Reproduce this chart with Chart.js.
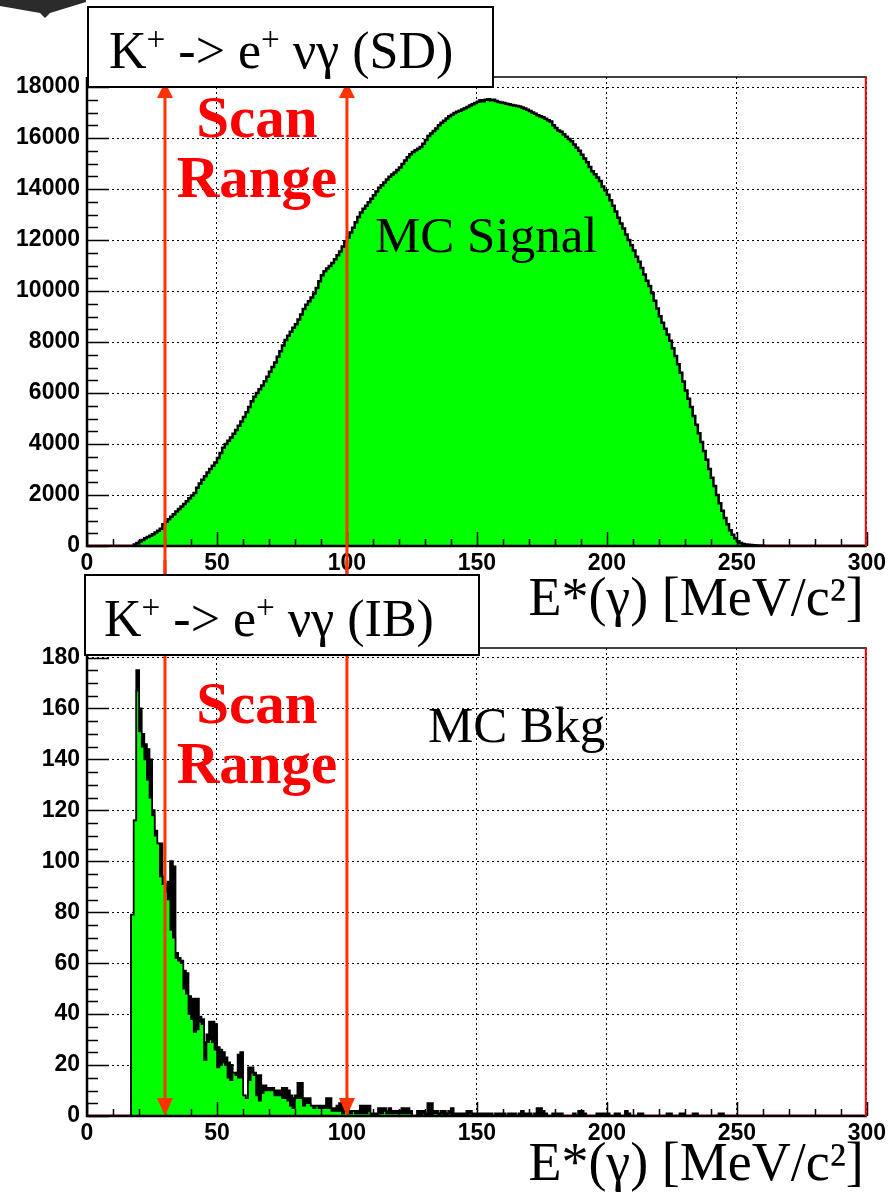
<!DOCTYPE html>
<html>
<head>
<meta charset="utf-8">
<script src="https://cdn.jsdelivr.net/npm/chart.js@4.4.0/dist/chart.umd.min.js"></script>
<style>
  html, body { margin: 0; padding: 0; background: #fff; }
  body { width: 890px; height: 1195px; position: relative; overflow: hidden; }
  #corner { position: absolute; left: 0; top: 0; width: 86px; height: 18px; background: #2b2b2b;
            clip-path: polygon(0 0, 86px 0, 86px 2px, 50px 13px, 45px 18px, 40px 13px, 0 6px); }
  canvas { position: absolute; left: 0; }
  #sdChart { top: 0; }
  #ibChart { top: 560px; }
</style>
</head>
<body>
<div id="corner"></div>
<canvas id="sdChart" width="890" height="640"></canvas>
<canvas id="ibChart" width="890" height="635"></canvas>
<script>
// E*(gamma) axis, MeV, 1 MeV bins
const energyTicks = [0, 50, 100, 150, 200, 250, 300];
const binWidth = 1;
const scanRange = [30, 100];
const axisTitle = 'E*(\u03b3) [MeV/c\u00b2]';

// K+ -> e+ nu gamma (SD), MC signal, first bin at 18 MeV
const sdStart = 18;
const sdCounts = [
  20, 60, 120, 180, 240, 300, 350, 400, 460, 530,
  600, 680, 850, 950, 1050, 1150, 1250, 1350, 1450, 1550,
  1650, 1760, 1870, 1980, 2080, 2280, 2450, 2600, 2740, 2880,
  3020, 3150, 3280, 3450, 3650, 3850, 4000, 4130, 4260, 4400,
  4550, 4720, 4880, 5060, 5250, 5450, 5680, 5850, 6000, 6150,
  6300, 6460, 6640, 6830, 7020, 7200, 7420, 7640, 7860, 8080,
  8250, 8400, 8560, 8700, 8880, 9080, 9300, 9460, 9600, 9750,
  9900, 10120, 10380, 10620, 10780, 10880, 10980, 11100, 11250, 11400,
  11550, 11750, 11950, 12100, 12300, 12480, 12700, 12900, 13080, 13230,
  13350, 13480, 13620, 13760, 13900, 14050, 14150, 14260, 14380, 14480,
  14570, 14650, 14750, 14850, 14980, 15120, 15250, 15370, 15450, 15520,
  15580, 15650, 15780, 15920, 16080, 16180, 16280, 16380, 16500, 16600,
  16680, 16770, 16860, 16920, 16980, 17030, 17070, 17120, 17170, 17220,
  17280, 17330, 17380, 17430, 17480, 17440, 17500, 17520, 17480, 17500,
  17450, 17420, 17400, 17380, 17350, 17330, 17300, 17280, 17260, 17240,
  17200, 17160, 17110, 17060, 17000, 16950, 16900, 16860, 16820, 16760,
  16700, 16650, 16500, 16400, 16300, 16250, 16150, 16050, 15960, 15880,
  15750, 15620, 15500, 15350, 15200, 15050, 14870, 14700, 14580, 14450,
  14320, 14100, 13950, 13780, 13560, 13350, 13120, 12880, 12650, 12450,
  12220, 12000, 11800, 11590, 11350, 11150, 10900, 10650, 10400, 10200,
  9920, 9620, 9320, 9010, 8760, 8520, 8300, 8050, 7760, 7450,
  7130, 6800, 6450, 6100, 5780, 5450, 5100, 4760, 4420, 4080,
  3730, 3380, 3020, 2680, 2350, 2000, 1680, 1380, 1100, 850,
  620, 440, 300, 190, 120, 80, 60, 45, 35, 25,
  18, 12, 8
];
const sdTicks = [0, 2000, 4000, 6000, 8000, 10000, 12000, 14000, 16000, 18000];

// K+ -> e+ nu gamma (IB), MC background, first bin at 17 MeV
const ibStart = 17;
const ibFilled = [
  20, 79, 116, 167, 151, 145, 140, 132, 125, 118,
  110, 107, 94, 91, 88, 85, 73, 70, 62, 61,
  60, 50, 48, 40, 38, 33, 34, 37, 36, 22,
  29, 30, 29, 26, 19, 20, 21, 20, 15, 14,
  17, 16, 15, 15, 8, 7, 14, 17, 16, 8,
  6, 9, 10, 10, 10, 10, 8, 8, 8, 7,
  7, 6, 4, 3, 7, 7, 7, 4, 5, 5,
  4, 3, 4, 3, 3, 3, 3, 3, 2, 2,
  2, 2, 1, 2, 2, 1, 2, 1, 1, 1,
  1, 1, 2, 0, 0, 0, 1, 1, 2, 1,
  1, 1, 1, 1, 1, 1, 1, 1, 1, 0,
  0, 0, 0, 1, 0, 0, 0, 1, 1, 0,
  1, 0, 0, 1, 0, 0, 0, 0, 0, 0,
  0, 1
];
const ibOutline = [
  20, 79, 116, 175, 160, 150, 146, 144, 140, 120,
  112, 107, 107, 94, 91, 92, 100, 98, 64, 62,
  61, 57, 56, 47, 46, 46, 46, 39, 38, 29,
  32, 37, 37, 36, 27, 26, 25, 23, 21, 20,
  17, 17, 24, 25, 8, 7, 19, 19, 17, 16,
  16, 12, 12, 11, 11, 11, 10, 10, 10, 11,
  11, 10, 8, 7, 8, 13, 13, 7, 7, 7,
  4, 4, 4, 4, 4, 4, 7, 7, 3, 3,
  4, 5, 6, 5, 2, 2, 2, 2, 2, 4,
  4, 4, 4, 1, 1, 1, 3, 3, 3, 2,
  3, 2, 2, 2, 2, 3, 3, 3, 2, 0,
  0, 2, 2, 2, 1, 5, 5, 2, 2, 1,
  2, 2, 1, 2, 3, 1, 1, 1, 1, 1,
  2, 2, 1, 1, 1, 1, 1, 1, 1, 1,
  0, 1, 1, 1, 1, 0, 1, 1, 1, 0,
  1, 2, 1, 1, 1, 0, 1, 3, 3, 2,
  1, 0, 0, 1, 1, 1, 1, 0, 0, 0,
  0, 1, 0, 2, 2, 1, 0, 0, 0, 0,
  1, 1, 1, 1, 1, 0, 0, 1, 1, 0,
  0, 2, 1, 0, 0, 0, 1, 1, 0, 0,
  0, 0, 0, 0, 0, 0, 0, 1, 1, 0,
  0, 0, 1, 1, 0, 0, 0, 1, 1, 0,
  0, 0, 0, 0, 0, 0, 0, 1, 1, 0
];
const ibTicks = [0, 20, 40, 60, 80, 100, 120, 140, 160, 180];

const sdLabel = [['K', 0], ['+', 1], [' -> e', 0], ['+', 1], [' \u03bd\u03b3 (SD)', 0]];
const ibLabel = [['K', 0], ['+', 1], [' -> e', 0], ['+', 1], [' \u03bd\u03b3 (IB)', 0]];

const SERIF = '"Liberation Serif", "DejaVu Serif", serif';
const SANS = '"Liberation Sans", Arial, sans-serif';
const GREEN = '#00ff00';
const SCAN_RED = '#ff3300';

// histogram -> step points (left bin edges), closed at both ends
function histPoints(start, counts) {
  const pts = [{ x: start, y: 0 }];
  counts.forEach((c, i) => pts.push({ x: start + i * binWidth, y: c }));
  pts.push({ x: start + counts.length * binWidth, y: 0 });
  return pts;
}

function drawRich(ctx, parts, x, y, size) {
  let cx = x;
  ctx.textAlign = 'left';
  ctx.textBaseline = 'alphabetic';
  for (const [txt, sup] of parts) {
    const s = sup ? size * 0.64 : size;
    ctx.font = s + 'px ' + SERIF;
    ctx.fillText(txt, cx, sup ? y - size * 0.34 : y);
    cx += ctx.measureText(txt).width;
  }
}

// frame, inner ticks, scan range arrows, axis title and the text boxes
function overlay(cfg) {
  return {
    id: 'overlay',
    beforeDatasetsDraw(chart) {
      const { ctx, chartArea: a, scales: { y } } = chart;
      const y0 = y.getPixelForValue(0);
      ctx.save();
      ctx.strokeStyle = '#ff7070';
      ctx.lineWidth = 1.5;
      ctx.beginPath();
      ctx.moveTo(a.left, y0 - 1);
      ctx.lineTo(a.right, y0 - 1);
      ctx.stroke();
      ctx.restore();
    },
    afterDatasetsDraw(chart) {
      const { ctx, chartArea: a, scales: { x, y } } = chart;
      ctx.save();

      // ticks inside the frame
      ctx.strokeStyle = '#000';
      ctx.lineWidth = 1.5;
      ctx.beginPath();
      for (let v = x.min; v <= x.max; v += cfg.xMinor) {
        const px = Math.round(x.getPixelForValue(v)) + 0.5;
        const len = v % cfg.xMajor === 0 ? 14 : 7;
        ctx.moveTo(px, a.bottom);
        ctx.lineTo(px, a.bottom - len);
      }
      for (let v = 0; v <= y.max; v += cfg.yMinor) {
        const py = Math.round(y.getPixelForValue(v)) + 0.5;
        const len = v % cfg.yMajor === 0 ? 22 : 11;
        ctx.moveTo(a.left, py);
        ctx.lineTo(a.left + len, py);
      }
      ctx.stroke();

      // frame
      ctx.lineWidth = 1.5;
      ctx.beginPath();
      ctx.moveTo(a.left, a.top);
      ctx.lineTo(a.right, a.top);
      ctx.stroke();
      ctx.lineWidth = 2.5;
      ctx.beginPath();
      ctx.moveTo(a.left, a.top);
      ctx.lineTo(a.left, a.bottom);
      ctx.lineTo(a.right, a.bottom);
      ctx.stroke();
      ctx.strokeStyle = '#ff0000';
      ctx.lineWidth = 2;
      ctx.beginPath();
      ctx.moveTo(a.right - 1, a.top);
      ctx.lineTo(a.right - 1, a.bottom);
      ctx.stroke();

      // axis title, right aligned under the axis
      ctx.fillStyle = '#000';
      ctx.font = '54px ' + SERIF;
      ctx.textAlign = 'right';
      ctx.textBaseline = 'alphabetic';
      ctx.fillText(axisTitle, a.right - 3, cfg.titleY);

      // scan range lines with arrow heads
      ctx.strokeStyle = SCAN_RED;
      ctx.fillStyle = SCAN_RED;
      ctx.lineWidth = 3;
      const y0 = y.getPixelForValue(0);
      for (const e of scanRange) {
        const px = x.getPixelForValue(e);
        ctx.beginPath();
        if (cfg.arrow === 'up') {
          ctx.moveTo(px, cfg.arrowTip + 8);
          ctx.lineTo(px, chart.height);
        } else {
          ctx.moveTo(px, 0);
          ctx.lineTo(px, y0 - 10);
        }
        ctx.stroke();
        ctx.beginPath();
        if (cfg.arrow === 'up') {
          ctx.moveTo(px, cfg.arrowTip);
          ctx.lineTo(px - 8, cfg.arrowTip + 16);
          ctx.lineTo(px + 8, cfg.arrowTip + 16);
        } else {
          ctx.moveTo(px, y0);
          ctx.lineTo(px - 8, y0 - 18);
          ctx.lineTo(px + 8, y0 - 18);
        }
        ctx.closePath();
        ctx.fill();
      }

      // "Scan Range"
      const midX = (x.getPixelForValue(scanRange[0]) + x.getPixelForValue(scanRange[1])) / 2;
      ctx.fillStyle = '#ff0000';
      ctx.font = 'bold 59px ' + SERIF;
      ctx.textAlign = 'center';
      ctx.fillText('Scan', midX + 1, cfg.scanY);
      ctx.fillText('Range', midX + 1, cfg.scanY + 60);

      // sample name
      ctx.fillStyle = '#000';
      ctx.font = '51px ' + SERIF;
      ctx.textAlign = 'left';
      ctx.fillText(cfg.sample, cfg.sampleX, cfg.sampleY);

      // decay box
      const b = cfg.box;
      ctx.fillStyle = '#fff';
      ctx.fillRect(b.x, b.y, b.w, b.h);
      ctx.strokeStyle = '#000';
      ctx.lineWidth = 2;
      ctx.strokeRect(b.x, b.y, b.w, b.h);
      ctx.fillStyle = '#000';
      drawRich(ctx, cfg.label, b.x + b.tx, b.y + b.ty, 52);

      ctx.restore();
    }
  };
}

function makeChart(id, datasets, yTicks, yMax, layout, cfg) {
  return new Chart(document.getElementById(id), {
    type: 'line',
    data: { datasets },
    options: {
      responsive: false,
      animation: false,
      events: [],
      layout: { padding: layout.padding },
      plugins: { legend: { display: false }, tooltip: { enabled: false } },
      elements: { point: { radius: 0 }, line: { tension: 0 } },
      scales: {
        x: {
          type: 'linear', min: 0, max: 300,
          afterBuildTicks: s => { s.ticks = energyTicks.map(v => ({ value: v })); },
          afterFit: s => { s.height = layout.xHeight; },
          grid: { color: '#000', lineWidth: 1, drawTicks: false },
          border: { display: false, dash: [2, 3] },
          ticks: {
            color: '#000', padding: 4, maxRotation: 0, autoSkip: false,
            font: { family: SANS, weight: 'bold', size: 23 },
            callback: v => String(v)
          }
        },
        y: {
          type: 'linear', min: 0, max: yMax,
          afterBuildTicks: s => { s.ticks = yTicks.map(v => ({ value: v })); },
          afterFit: s => { s.width = 87; },
          grid: { color: '#000', lineWidth: 1, drawTicks: false },
          border: { display: false, dash: [2, 3] },
          ticks: {
            color: '#000', padding: 7,
            font: { family: SANS, weight: 'bold', size: 23 },
            callback: v => String(v)
          }
        }
      }
    },
    plugins: [overlay(cfg)]
  });
}

makeChart('sdChart', [{
  data: histPoints(sdStart, sdCounts),
  stepped: 'after',
  borderColor: '#000',
  borderWidth: 2.5,
  backgroundColor: GREEN,
  fill: 'origin'
}], sdTicks, 1.05 * Math.max(...sdCounts), {
  padding: { left: 0, right: 21, top: 77, bottom: 0 }, xHeight: 94
}, {
  xMinor: 10, xMajor: 50, yMinor: 500, yMajor: 2000,
  arrow: 'up', arrowTip: 82, scanY: 137, titleY: 615,
  sample: 'MC Signal', sampleX: 375, sampleY: 252,
  box: { x: 88, y: 7, w: 405, h: 80, tx: 21, ty: 61 }, label: sdLabel
});

makeChart('ibChart', [{
  data: histPoints(ibStart, ibFilled),
  stepped: 'after',
  borderColor: '#000',
  borderWidth: 1.5,
  backgroundColor: GREEN,
  fill: 'origin',
  order: 0
}, {
  data: histPoints(ibStart, ibOutline),
  stepped: 'after',
  borderColor: '#000',
  borderWidth: 2,
  backgroundColor: '#000',
  fill: 'origin',
  order: 1
}], ibTicks, 1.05 * Math.max(...ibOutline), {
  padding: { left: 0, right: 21, top: 88, bottom: 0 }, xHeight: 79
}, {
  xMinor: 10, xMajor: 50, yMinor: 5, yMajor: 20,
  arrow: 'down', scanY: 163, titleY: 620,
  sample: 'MC Bkg', sampleX: 428, sampleY: 182,
  box: { x: 85, y: 15, w: 394, h: 80, tx: 19, ty: 61 }, label: ibLabel
});
</script>
</body>
</html>
